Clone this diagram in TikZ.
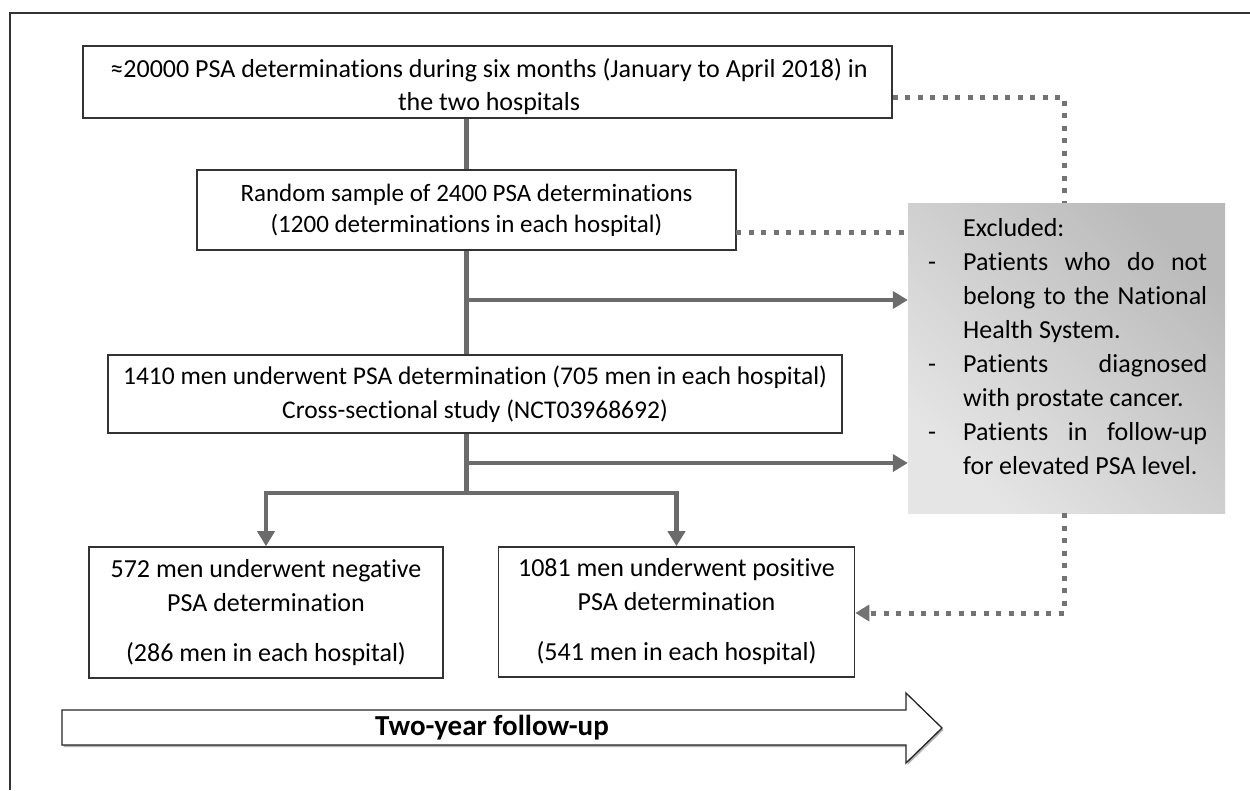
\documentclass[tikz,border=0pt]{standalone}
\usepackage{fontspec}
\setmainfont{Carlito}[Ligatures=NoCommon]
\usetikzlibrary{arrows.meta}
\begin{document}
\begin{tikzpicture}[x=1pt,y=-1pt,
  box/.style={draw=black!80, line width=1.6pt, fill=white, inner sep=0pt, align=center,
    font=\fontsize{25}{31}\selectfont},
  txt/.style={inner sep=0pt, align=center},
  conn/.style={draw=black!58, line width=4.2pt},
  arr/.style={conn, -{Triangle[width=17pt,length=15pt]}},
  dotline/.style={draw=black!55, line width=5pt, dash pattern=on 5pt off 7.5pt},
  dotarr/.style={dotline, -{Triangle[width=16pt,length=14pt]}},
  extext/.style={inner sep=0pt, align=left, font=\fontsize{26}{34}\selectfont}
]
\useasboundingbox (0,0) rectangle (1250,790);
\fill[white] (0,0) rectangle (1250,790);
\draw[black!80, line width=1.3pt] (10,790) -- (10,13) -- (1250,13);

% boxes
\node[box, minimum width=809pt, minimum height=72pt] (b1) at (487.5,82) {};
\node[txt, font=\fontsize{26}{33}\selectfont] (t1) at (489,87)
  {≈20000 PSA determinations during six months (January to April 2018) in\\the two hospitals};
\node[box, minimum width=539pt, minimum height=80pt] (b2) at (466.5,210)
  {Random sample of 2400 PSA determinations\\(1200 determinations in each hospital)};
\node[box, minimum width=734pt, minimum height=78pt, font=\fontsize{25.5}{34}\selectfont] (b3) at (475,394)
  {1410 men underwent PSA determination (705 men in each hospital)\\Cross-sectional study (NCT03968692)};
\node[box, minimum width=354pt, minimum height=131pt, font=\fontsize{26}{34}\selectfont] (b4) at (266,612.5)
  {572 men underwent negative\\PSA determination\\[16pt](286 men in each hospital)};
\node[box, minimum width=356pt, minimum height=130pt, font=\fontsize{26}{34}\selectfont] (b5) at (676.5,612)
  {1081 men underwent positive\\PSA determination\\[16pt](541 men in each hospital)};

% exclusion box
\node[inner sep=0pt, minimum width=317pt, minimum height=310pt,
  left color=black!10, right color=black!27, shading angle=135] (ex) at (1066.5,358) {};
\node[extext, anchor=north west] (ext) at (928,218) {%
  \makebox[35pt][l]{}Excluded:\\
  \makebox[35pt][l]{-}\makebox[244pt][s]{Patients who do not}\\
  \makebox[35pt][l]{}\makebox[244pt][s]{belong to the National}\\
  \makebox[35pt][l]{}Health System.\\
  \makebox[35pt][l]{-}\makebox[244pt][s]{Patients diagnosed}\\
  \makebox[35pt][l]{}with prostate cancer.\\
  \makebox[35pt][l]{-}\makebox[244pt][s]{Patients in follow-up}\\
  \makebox[35pt][l]{}for elevated PSA level.};

% solid connectors
\coordinate (j0) at (466.5,300);
\draw[conn] (b1.south -| b2.north) -- (b2.north);
\draw[conn] (b2.south) -- (b2.south |- b3.north);
\draw[arr] (j0) -- (j0 -| ex.west);
\coordinate (j2) at (466.5,463);
\coordinate (j3) at (466.5,493);
\draw[conn] (j3 |- b3.south) -- (j3);
\draw[arr] (j2) -- (j2 -| ex.west);
\draw[conn, line join=miter, {Triangle[width=17pt,length=15pt]}-{Triangle[width=17pt,length=15pt]}]
  (b4.north) -- (b4.north |- j3) -- (b5.north |- j3) -- (b5.north);

% dotted connectors
\coordinate (d1) at (892.5,97);
\coordinate (d1c) at (1064,97);
\draw[dotline] (d1) -- (d1c) -- (d1c |- ex.north);
\coordinate (d2) at (736,232);
\draw[dotline] (d2) -- (d2 -| ex.west);
\coordinate (d3) at (1064,613);
\draw[dotarr] (d3 |- ex.south) -- (d3) -- (d3 -| b5.east);

% follow-up arrow
\fill[black!30] (63.5,712) -- (907.5,712) -- (907.5,695) -- (943.5,730) -- (907.5,765) -- (907.5,747) -- (63.5,747) -- cycle;
\draw[black!85, line width=1.3pt, fill=white] (62,710) -- (906,710) -- (906,693) -- (942,728) -- (906,763) -- (906,745) -- (62,745) -- cycle;
\node[font=\fontsize{29}{34}\selectfont\bfseries, inner sep=0pt] (fu) at (492,728) {Two-year follow-up};
\end{tikzpicture}
\end{document}
